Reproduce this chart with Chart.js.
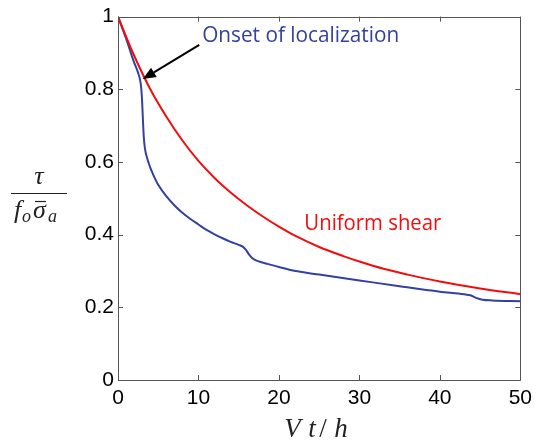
<!DOCTYPE html>
<html>
<head>
<meta charset="utf-8">
<script src="https://cdn.jsdelivr.net/npm/chart.js@4/dist/chart.umd.min.js"></script>
<style>
html,body{margin:0;padding:0;background:#fff;}
#wrap{width:538px;height:447px;position:relative;}
</style>
</head>
<body>
<div id="wrap"><canvas id="c" width="538" height="447"></canvas></div>
<script>
// ---- data ----
const localizedX = [0,1,2,2.5,2.75,2.9,3.0,3.1,3.2,3.35,3.6,4.0,4.4,5,6,7,8,9,10,11,12,13,14,15,15.5,15.9,16.3,16.7,17.4,18.5,20,22.3,25,30,35,40,43,43.8,44.5,45.3,46.5,50];
const localizedY = [1,0.94,0.874,0.845,0.825,0.8,0.765,0.715,0.67,0.637,0.612,0.585,0.564,0.537,0.506,0.481,0.46,0.443,0.428,0.413,0.401,0.39,0.38,0.372,0.367,0.358,0.345,0.335,0.327,0.32,0.311,0.299,0.29,0.274,0.258,0.243,0.236,0.233,0.226,0.221,0.219,0.217];
const uniformX = [0,2,4,6,8,10,12,13,14,15,16,18,20,22,25,28,30,33,36,40,45,50];
const uniformY = [1,0.893,0.801,0.725,0.659,0.603,0.556,0.535,0.516,0.498,0.481,0.45,0.422,0.397,0.366,0.341,0.326,0.306,0.29,0.271,0.252,0.236];
const xTicks = [0,10,20,30,40,50];
const yTicks = [0,0.2,0.4,0.6,0.8,1];

const toPts = (xs, ys) => xs.map((x, i) => ({x: x, y: ys[i]}));

const BLUE = '#3341a0';
const RED = '#f20d0d';

const framePlugin = {
  id: 'frame',
  afterDatasetsDraw(chart) {
    const ctx = chart.ctx, a = chart.chartArea;
    const xs = chart.scales.x, ys = chart.scales.y;
    ctx.save();
    ctx.strokeStyle = '#555';
    ctx.lineWidth = 1;
    ctx.beginPath();
    ctx.rect(Math.round(a.left) + 0.5, Math.round(a.top) + 0.5, Math.round(a.right - a.left), Math.round(a.bottom - a.top));
    ctx.stroke();
    const L = 5;
    ctx.beginPath();
    xTicks.forEach(v => {
      const px = Math.round(xs.getPixelForValue(v)) + 0.5;
      ctx.moveTo(px, a.bottom); ctx.lineTo(px, a.bottom - L);
      ctx.moveTo(px, a.top); ctx.lineTo(px, a.top + L);
    });
    yTicks.forEach(v => {
      const py = Math.round(ys.getPixelForValue(v)) + 0.5;
      ctx.moveTo(a.left, py); ctx.lineTo(a.left + L, py);
      ctx.moveTo(a.right, py); ctx.lineTo(a.right - L, py);
    });
    ctx.stroke();
    ctx.restore();
  }
};

const annotPlugin = {
  id: 'annot',
  afterDraw(chart) {
    const ctx = chart.ctx, a = chart.chartArea;
    const xs = chart.scales.x, ys = chart.scales.y;
    const X = v => xs.getPixelForValue(v), Y = v => ys.getPixelForValue(v);
    ctx.save();
    function fitText(txt, x, y, font, color, w) {
      ctx.font = font;
      ctx.fillStyle = color;
      ctx.textBaseline = 'alphabetic';
      ctx.textAlign = 'left';
      const m = ctx.measureText(txt).width;
      ctx.save();
      ctx.translate(x, y);
      ctx.scale(w / m, 1);
      ctx.fillText(txt, 0, 0);
      ctx.restore();
    }
    fitText('Onset of localization', X(10.46), Y(0.93), '22px "Open Sans"', BLUE, 197);
    fitText('Uniform shear', X(23.16), Y(0.413), '21px "Open Sans"', RED, 137);

    // arrow
    const tx = X(10.1), ty = Y(0.922), hx = X(3.08), hy = Y(0.828);
    const ang = Math.atan2(hy - ty, hx - tx);
    const hl = 13, hw = 5.5;
    const bx = hx - hl * Math.cos(ang), by = hy - hl * Math.sin(ang);
    ctx.strokeStyle = '#000';
    ctx.fillStyle = '#000';
    ctx.lineWidth = 2;
    ctx.beginPath();
    ctx.moveTo(tx, ty); ctx.lineTo(bx, by); ctx.stroke();
    ctx.beginPath();
    ctx.moveTo(hx, hy);
    ctx.lineTo(bx + hw * Math.sin(ang), by - hw * Math.cos(ang));
    ctx.lineTo(bx - hw * Math.sin(ang), by + hw * Math.cos(ang));
    ctx.closePath();
    ctx.fill();

    // x axis title: Vt/h
    const cx = (a.left + a.right) / 2;
    ctx.fillStyle = '#222';
    ctx.font = 'italic 27px "Liberation Serif"';
    ctx.textAlign = 'left';
    ctx.textBaseline = 'alphabetic';
    ctx.fillText('V', cx - 35, 437);
    ctx.fillText('t', cx - 11, 437);
    ctx.font = '27px "Liberation Serif"';
    ctx.fillText('/', cx + 0, 437);
    ctx.font = 'italic 27px "Liberation Serif"';
    ctx.fillText('h', cx + 15, 437);

    // y axis title: tau / (f_o sigma-bar_a)
    ctx.font = 'italic 26px "Liberation Serif"';
    ctx.textAlign = 'center';
    ctx.fillText('\u03C4', 39, 184);
    ctx.lineWidth = 1.2;
    ctx.strokeStyle = '#222';
    ctx.beginPath();
    ctx.moveTo(11, 193.5); ctx.lineTo(67, 193.5); ctx.stroke();
    ctx.textAlign = 'left';
    ctx.font = 'italic 26px "Liberation Serif"';
    ctx.fillText('f', 14, 218);
    ctx.font = 'italic 18px "Liberation Serif"';
    ctx.fillText('o', 22, 222);
    ctx.font = 'italic 26px "Liberation Serif"';
    ctx.fillText('\u03C3', 33, 218);
    ctx.beginPath();
    ctx.moveTo(35, 201.5); ctx.lineTo(46, 201.5); ctx.stroke();
    ctx.font = 'italic 18px "Liberation Serif"';
    ctx.fillText('a', 48, 222);
    ctx.restore();
  }
};

new Chart(document.getElementById('c'), {
  type: 'line',
  data: {
    datasets: [
      {
        label: 'Uniform shear',
        data: toPts(uniformX, uniformY),
        borderColor: RED,
        borderWidth: 2,
        pointRadius: 0,
        cubicInterpolationMode: 'monotone',
        fill: false,
        order: 0
      },
      {
        label: 'Localized',
        data: toPts(localizedX, localizedY),
        borderColor: BLUE,
        borderWidth: 2,
        pointRadius: 0,
        cubicInterpolationMode: 'monotone',
        fill: false,
        order: 1
      }
    ]
  },
  options: {
    responsive: false,
    animation: false,
    devicePixelRatio: 1,
    layout: { padding: { left: 0, right: 12, top: 13, bottom: 0 } },
    plugins: { legend: { display: false }, tooltip: { enabled: false } },
    scales: {
      x: {
        type: 'linear',
        min: 0, max: 50,
        afterBuildTicks: s => { s.ticks = xTicks.map(v => ({value: v})); },
        afterFit: s => { s.height = 67; },
        grid: { display: false, drawTicks: false },
        border: { display: false },
        ticks: {
          color: '#000',
          font: { family: '"Liberation Sans", Arial', size: 21 },
          padding: 6,
          maxRotation: 0,
          callback: v => String(v)
        }
      },
      y: {
        type: 'linear',
        min: 0, max: 1,
        afterBuildTicks: s => { s.ticks = yTicks.map(v => ({value: v})); },
        afterFit: s => { s.width = 118; },
        grid: { display: false, drawTicks: false },
        border: { display: false },
        ticks: {
          color: '#000',
          font: { family: '"Liberation Sans", Arial', size: 21 },
          padding: 4,
          callback: v => String(Math.round(v * 10) / 10)
        }
      }
    }
  },
  plugins: [framePlugin, annotPlugin]
});
</script>
</body>
</html>
